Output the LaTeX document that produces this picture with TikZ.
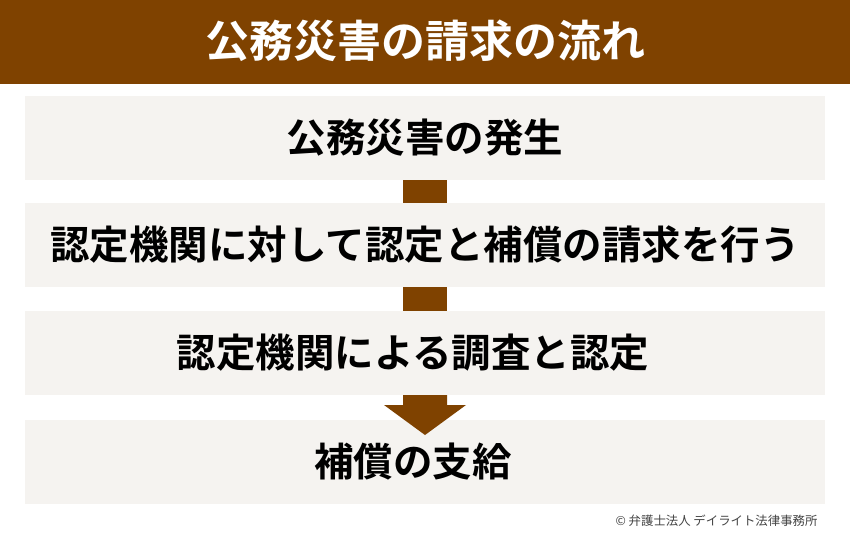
\documentclass[tikz,border=0pt]{standalone}
\usepackage{fontspec}
\newfontfamily\jpb{Noto Sans CJK JP Bold}
\newfontfamily\jp{Noto Sans CJK JP}
\definecolor{brn}{HTML}{7F4200}
\definecolor{boxbg}{HTML}{F5F3F0}
\definecolor{copyc}{HTML}{444444}
\tikzset{
  stepbox/.style={fill=boxbg, draw=none, minimum width=800pt, minimum height=84pt, inner sep=0pt},
  steptext/.style={inner sep=0pt, font=\jpb\fontsize{39.5}{42}\selectfont, text=black},
  link/.style={fill=brn, draw=none}
}
\begin{document}
\begin{tikzpicture}[x=1pt,y=-1pt]
\useasboundingbox (0,0) rectangle (850,538);
\fill[white] (0,0) rectangle (850,538);
\fill[brn] (0,0) rectangle (850,84);
\node[font=\jpb\fontsize{44}{47}\selectfont, text=white] (title) at (425,41) {公務災害の請求の流れ};
\node[stepbox] (s1) at (425,138) {};
\node[stepbox] (s2) at (425,245) {};
\node[stepbox] (s3) at (425,353) {};
\node[stepbox] (s4) at (425,462) {};
\node[steptext] (t1) at (s1.center) {公務災害の発生};
\node[steptext] (t2) at (s2.center) {認定機関に対して認定と補償の請求を行う};
\node[steptext] (t3) at ([xshift=-12pt]s3.center) {認定機関による調査と認定};
\node[steptext] (t4) at ([xshift=-12pt]s4.center) {補償の支給};
\fill[link] (s1.south -| 403,0) rectangle (447,0 |- s2.north);
\fill[link] (s2.south -| 403,0) rectangle (447,0 |- s3.north);
\fill[link] (403,395) -- (447,395) -- (447,405) -- (466,405) -- (425,435) -- (384,405) -- (403,405) -- cycle;
\node[font=\jp\fontsize{12.4}{14}\selectfont, text=copyc, anchor=east] (copy) at (821,521) {© 弁護士法人 デイライト法律事務所};
\end{tikzpicture}
\end{document}
